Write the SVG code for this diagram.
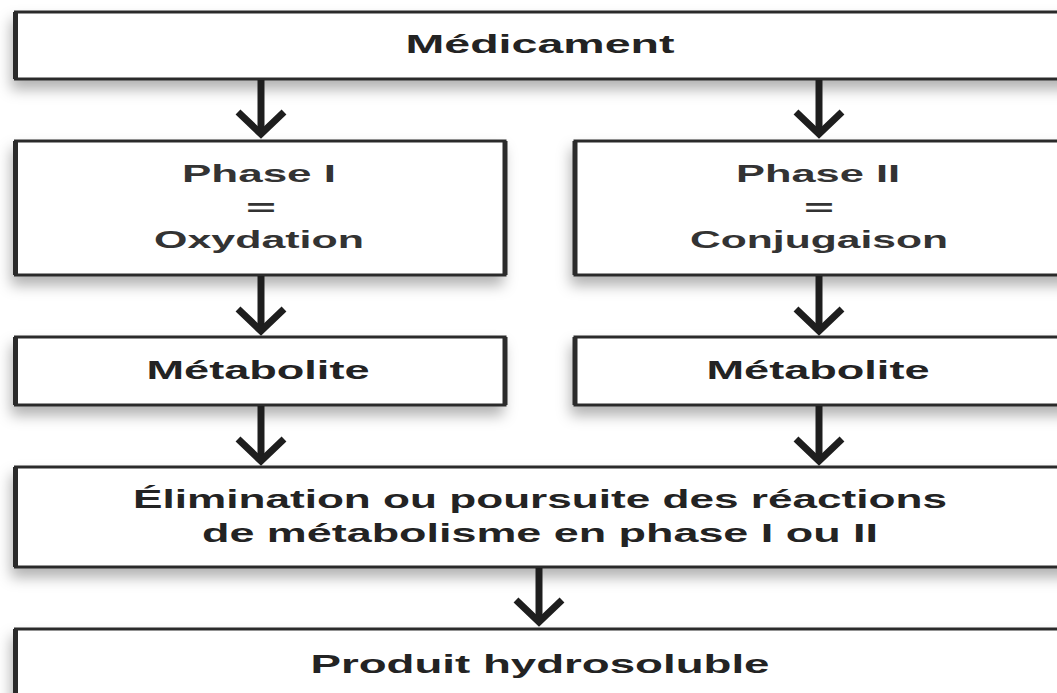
<svg xmlns="http://www.w3.org/2000/svg" width="1057" height="693" viewBox="0 0 1057 693">
  <defs>
    <filter id="shadow" x="-10%" y="-30%" width="120%" height="180%">
      <feDropShadow dx="-3" dy="9" stdDeviation="7" flood-color="#000" flood-opacity="0.3"/>
    </filter>
    <marker id="head" markerUnits="userSpaceOnUse" orient="auto" overflow="visible" refX="0" refY="0" markerWidth="60" markerHeight="60">
      <path d="M -22,-23 L 0,0 L -22,23" fill="none" stroke="#1e1e1e" stroke-width="7" stroke-linejoin="miter" stroke-miterlimit="6"/>
    </marker>
    <style>
      .box { fill: #ffffff; stroke: #2b2b2b; stroke-width: 3; filter: url(#shadow); }
      .side { stroke: #2b2b2b; stroke-width: 5; }
      .cond { font-family: "Liberation Sans", Arial, sans-serif; font-weight: bold; font-size: 25px; fill: #232323; text-anchor: middle; }
      .ph { font-family: "Liberation Sans", Arial, sans-serif; font-weight: bold; font-size: 24px; fill: #333333; text-anchor: middle; }
      .conn { stroke: #1e1e1e; stroke-width: 7; fill: none; marker-end: url(#head); }
    </style>
  </defs>
  <rect width="1057" height="693" fill="#ffffff"/>

  <g id="medicament">
    <rect class="box" x="15.5" y="12" width="1060" height="67"/>
    <line class="side" x1="15.5" y1="12" x2="15.5" y2="79"/>
    <text class="cond" x="540" y="53" textLength="269" lengthAdjust="spacingAndGlyphs">Médicament</text>
  </g>

  <g id="phase1">
    <rect class="box" x="15.5" y="141" width="489.5" height="134"/>
    <line class="side" x1="15.5" y1="141" x2="15.5" y2="275"/>
    <line class="side" x1="505" y1="141" x2="505" y2="275"/>
    <text class="ph" x="259" y="182" textLength="154" lengthAdjust="spacingAndGlyphs">Phase I</text>
    <text class="ph" x="261" y="216" textLength="30" lengthAdjust="spacingAndGlyphs">=</text>
    <text class="ph" x="259" y="248" textLength="210" lengthAdjust="spacingAndGlyphs">Oxydation</text>
  </g>

  <g id="phase2">
    <rect class="box" x="575" y="141" width="500" height="134"/>
    <line class="side" x1="575" y1="141" x2="575" y2="275"/>
    <text class="ph" x="818" y="182" textLength="164" lengthAdjust="spacingAndGlyphs">Phase II</text>
    <text class="ph" x="819" y="216" textLength="30" lengthAdjust="spacingAndGlyphs">=</text>
    <text class="ph" x="819" y="248" textLength="258" lengthAdjust="spacingAndGlyphs">Conjugaison</text>
  </g>

  <g id="metabolite1">
    <rect class="box" x="15.5" y="337" width="489.5" height="68"/>
    <line class="side" x1="15.5" y1="337" x2="15.5" y2="405"/>
    <line class="side" x1="505" y1="337" x2="505" y2="405"/>
    <text class="cond" x="258" y="379" textLength="223" lengthAdjust="spacingAndGlyphs">Métabolite</text>
  </g>

  <g id="metabolite2">
    <rect class="box" x="575" y="337" width="500" height="68"/>
    <line class="side" x1="575" y1="337" x2="575" y2="405"/>
    <text class="cond" x="818" y="379" textLength="223" lengthAdjust="spacingAndGlyphs">Métabolite</text>
  </g>

  <g id="elimination">
    <rect class="box" x="15.5" y="467" width="1060" height="100"/>
    <line class="side" x1="15.5" y1="467" x2="15.5" y2="567"/>
    <text class="cond" x="540" y="508" textLength="814" lengthAdjust="spacingAndGlyphs">Élimination ou poursuite des réactions</text>
    <text class="cond" x="540" y="542" textLength="676" lengthAdjust="spacingAndGlyphs">de métabolisme en phase I ou II</text>
  </g>

  <g id="produit">
    <rect class="box" x="15.5" y="629" width="1060" height="100"/>
    <line class="side" x1="15.5" y1="629" x2="15.5" y2="729"/>
    <text class="cond" x="540" y="673" textLength="459" lengthAdjust="spacingAndGlyphs">Produit hydrosoluble</text>
  </g>

  <g id="connectors">
    <line class="conn" x1="261" y1="80" x2="261" y2="134"/>
    <line class="conn" x1="819" y1="80" x2="819" y2="134"/>
    <line class="conn" x1="261" y1="276" x2="261" y2="331"/>
    <line class="conn" x1="819" y1="276" x2="819" y2="331"/>
    <line class="conn" x1="261" y1="406" x2="261" y2="461"/>
    <line class="conn" x1="819" y1="406" x2="819" y2="461"/>
    <line class="conn" x1="539" y1="568" x2="539" y2="622"/>
  </g>
</svg>
